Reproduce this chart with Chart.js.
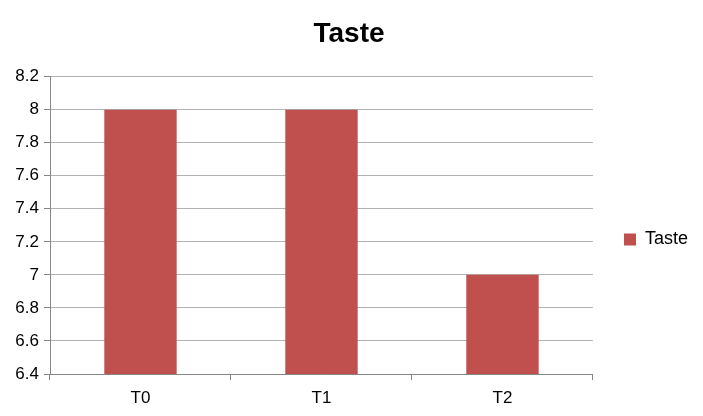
<!DOCTYPE html>
<html>
<head>
<meta charset="utf-8">
<script src="https://cdn.jsdelivr.net/npm/chart.js@4/dist/chart.umd.min.js"></script>
<style>
    html, body { margin: 0; padding: 0; background: #fff; }
    #wrap { width: 703px; height: 416px; }
</style>
</head>
<body>
<div id="wrap"><canvas id="taste-chart"></canvas></div>
<script>
// Datos de la gráfica
const categories = ['T0', 'T1', 'T2'];
const tasteValues = [8, 8, 7];
const yTicks = [6.4, 6.6, 6.8, 7, 7.2, 7.4, 7.6, 7.8, 8, 8.2];

const tasteChart = new Chart(document.getElementById('taste-chart'), {
    type: 'bar',
    data: {
        labels: categories,
        datasets: [{
            label: 'Taste',
            data: tasteValues,
            backgroundColor: '#C0504D',
            borderWidth: 0,
            categoryPercentage: 0.4,
            barPercentage: 1
        }]
    },
    options: {
        responsive: true,
        maintainAspectRatio: false,
        animation: false,
        layout: { padding: { top: 17, right: 5, left: 0, bottom: 0 } },
        plugins: {
            title: {
                display: true,
                text: 'Taste',
                color: '#000',
                font: { family: 'Liberation Sans', size: 28, weight: 'bold' },
                padding: { top: 0, bottom: 26 }
            },
            legend: {
                position: 'right',
                // título vacío para bajar la leyenda
                title: {
                    display: true,
                    text: ' ',
                    font: { size: 10 },
                    padding: 17
                },
                labels: {
                    color: '#000',
                    font: { family: 'Liberation Sans', size: 18 },
                    boxWidth: 12,
                    boxHeight: 12,
                    padding: 31
                }
            },
            tooltip: { enabled: false }
        },
        scales: {
            y: {
                min: yTicks[0],
                max: yTicks[yTicks.length - 1],
                afterBuildTicks: s => { s.ticks = yTicks.map(v => ({ value: v })); },
                afterFit: s => { s.width = 50; },
                ticks: {
                    color: '#000',
                    font: { family: 'Liberation Sans', size: 17 },
                    padding: 5,
                    callback: v => String(Number(v.toFixed(1)))
                },
                grid: { color: '#B3B3B3', tickLength: 6, tickColor: '#868686' },
                border: { color: '#868686' }
            },
            x: {
                afterFit: s => { s.height = 42; },
                ticks: {
                    color: '#000',
                    font: { family: 'Liberation Sans', size: 17 },
                    padding: 8
                },
                grid: { drawOnChartArea: false, tickLength: 6, color: '#868686' },
                border: { color: '#868686' }
            }
        }
    }
});
</script>
</body>
</html>
